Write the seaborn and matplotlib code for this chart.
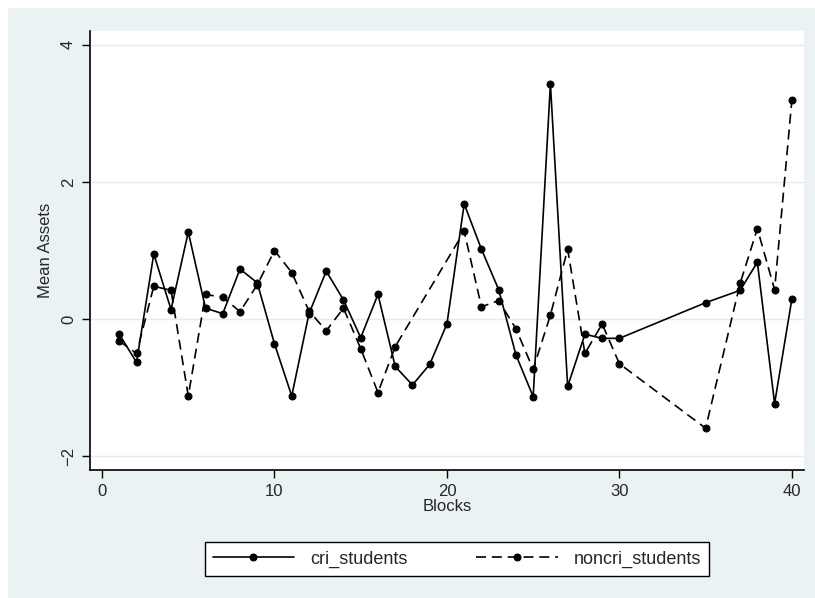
import numpy as np
import pandas as pd
import matplotlib
matplotlib.use("Agg")
import matplotlib.pyplot as plt
from matplotlib.patches import Rectangle
import seaborn as sns

# data
cri_blocks = [1, 2, 3, 4, 5, 6, 7, 8, 9, 10, 11, 12, 13, 14, 15, 16, 17, 18, 19, 20,
              21, 22, 23, 24, 25, 26, 27, 28, 29, 30, 35, 37, 38, 39, 40]
cri_assets = [-0.22, -0.63, 0.95, 0.14, 1.27, 0.16, 0.08, 0.73, 0.53, -0.36,
              -1.12, 0.08, 0.70, 0.28, -0.27, 0.36, -0.69, -0.96, -0.66, -0.07,
              1.68, 1.02, 0.43, -0.52, -1.13, 3.43, -0.98, -0.22, -0.28, -0.28,
              0.24, 0.42, 0.83, -1.23, 0.29]

noncri_blocks = [1, 2, 3, 4, 5, 6, 7, 8, 9, 10, 11, 12, 13, 14, 15, 16, 17,
                 21, 22, 23, 24, 25, 26, 27, 28, 29, 30, 35, 37, 38, 39, 40]
noncri_assets = [-0.32, -0.50, 0.48, 0.42, -1.12, 0.36, 0.32, 0.11, 0.50, 1.00,
                 0.68, 0.12, -0.17, 0.16, -0.43, -1.07, -0.40,
                 1.28, 0.18, 0.27, -0.14, -0.73, 0.06, 1.02, -0.50, -0.07, -0.65,
                 -1.59, 0.52, 1.32, 0.43, 3.19]

x_ticks = [0, 10, 20, 30, 40]
y_ticks = [-2, 0, 2, 4]

sns.set_style("white")
plt.rcParams["font.family"] = ["Liberation Sans", "DejaVu Sans"]

bg = "#EAF2F3"

fig = plt.figure(figsize=(8.15, 5.98), dpi=100)
fig.patch.set_facecolor("white")
fig.patches.append(Rectangle((8 / 815, 0), 1, 1 - 8 / 598, transform=fig.transFigure,
                             facecolor=bg, edgecolor="none", zorder=-10))

ax = fig.add_axes([0.1104, 0.214, 0.876, 0.734])
ax.set_facecolor("white")
ax.set_zorder(1)

cri = pd.DataFrame({"Blocks": cri_blocks, "Mean Assets": cri_assets})
noncri = pd.DataFrame({"Blocks": noncri_blocks, "Mean Assets": noncri_assets})

sns.lineplot(data=cri, x="Blocks", y="Mean Assets", ax=ax, color="black",
             linewidth=1.2, marker="o", markersize=5, markeredgecolor="black",
             label="cri_students")
sns.lineplot(data=noncri, x="Blocks", y="Mean Assets", ax=ax, color="black",
             linewidth=1.2, linestyle=(0, (6, 3.5)), marker="o", markersize=5,
             markeredgecolor="black", label="noncri_students")

ax.set_xlim(-0.7, 40.7)
ax.set_ylim(-2.2, 4.2)
ax.set_xticks(x_ticks)
ax.set_yticks(y_ticks)
ax.yaxis.grid(True, color="#E2ECEE", linewidth=1)
ax.xaxis.grid(False)

for s in ["top", "right"]:
    ax.spines[s].set_visible(False)
for s in ["left", "bottom"]:
    ax.spines[s].set_color("black")
    ax.spines[s].set_linewidth(1.2)

ax.tick_params(axis="both", direction="out", length=6, width=1, color="black",
               labelsize=12, pad=4, bottom=True, left=True)
ax.tick_params(axis="y", labelrotation=90)
for lab in ax.get_yticklabels():
    lab.set_va("center")

ax.set_xlabel("Blocks", fontsize=12, labelpad=0)
ax.set_ylabel("Mean Assets", fontsize=12, labelpad=6)

handles, labels = ax.get_legend_handles_labels()
ax.get_legend().remove()
leg = fig.legend(handles, labels, loc="center", bbox_to_anchor=(457 / 815, 1 - 559 / 598),
                 ncol=2, frameon=True, fancybox=False, fontsize=13,
                 handlelength=4.5, columnspacing=3.8, borderpad=0.45, handletextpad=0.9)
leg.get_frame().set_edgecolor("black")
leg.get_frame().set_linewidth(1)
leg.get_frame().set_facecolor("white")
leg.get_frame().set_alpha(1)

fig.savefig("out.png", dpi=100, facecolor=fig.get_facecolor())
